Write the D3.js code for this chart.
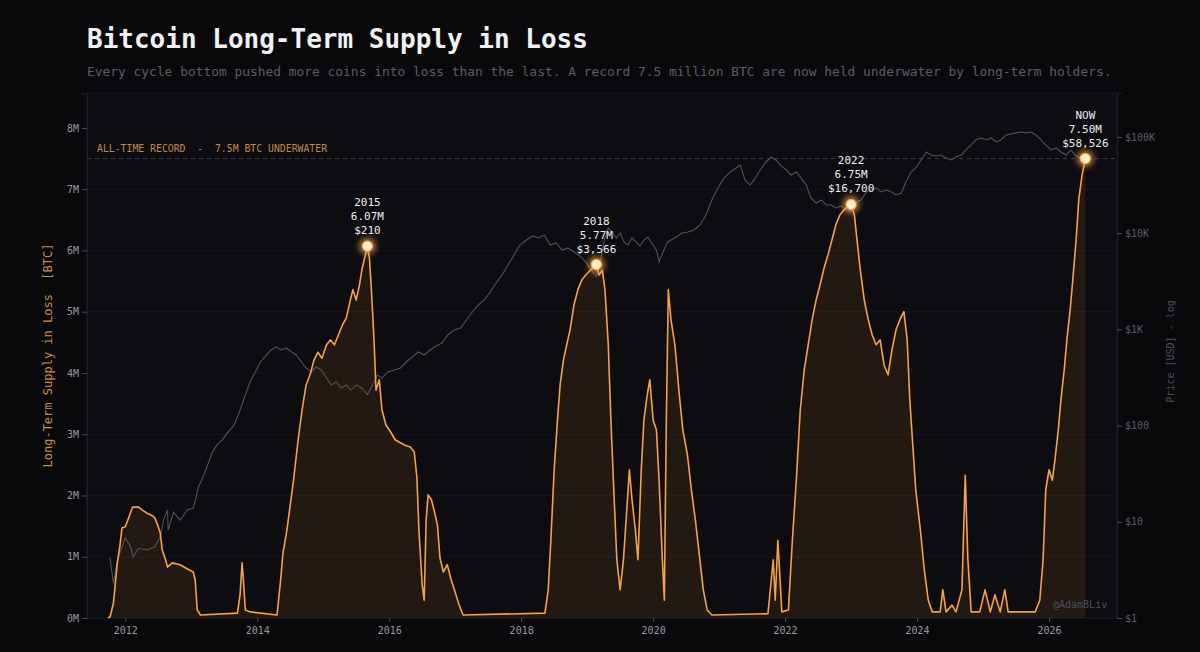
<!DOCTYPE html>
<html>
<head>
<meta charset="utf-8">
<script src="https://cdnjs.cloudflare.com/ajax/libs/d3/7.8.5/d3.min.js"></script>
<style>
  html, body { margin: 0; padding: 0; background: #09090c; }
  svg { display: block; }
  text { font-family: 'DejaVu Sans Mono', monospace; }
</style>
</head>
<body>
<svg id="chart" width="1200" height="652"></svg>
<script>
// Long-term holder supply in loss, millions of BTC [decimal year, value]
const supplyInLoss = [
  [2011.74, 0.00], [2011.77, 0.02], [2011.82, 0.24], [2011.88, 0.90], [2011.92, 1.19],
  [2011.95, 1.47], [2012.00, 1.49], [2012.05, 1.63], [2012.11, 1.81], [2012.20, 1.81],
  [2012.26, 1.76], [2012.33, 1.71], [2012.41, 1.67], [2012.45, 1.63], [2012.50, 1.49],
  [2012.53, 1.39], [2012.56, 1.11], [2012.61, 0.95], [2012.64, 0.83], [2012.71, 0.90],
  [2012.83, 0.87], [2012.91, 0.82], [2012.98, 0.78], [2013.03, 0.75], [2013.06, 0.62],
  [2013.09, 0.13], [2013.14, 0.05], [2013.70, 0.08], [2013.74, 0.38], [2013.77, 0.90],
  [2013.79, 0.62], [2013.82, 0.13], [2013.89, 0.10], [2014.30, 0.05], [2014.35, 0.57],
  [2014.39, 1.06], [2014.45, 1.44], [2014.55, 2.25], [2014.62, 2.91], [2014.68, 3.40],
  [2014.74, 3.80], [2014.80, 3.97], [2014.86, 4.21], [2014.92, 4.34], [2014.98, 4.24],
  [2015.05, 4.46], [2015.11, 4.54], [2015.17, 4.46], [2015.23, 4.62], [2015.29, 4.78],
  [2015.35, 4.90], [2015.41, 5.19], [2015.45, 5.36], [2015.50, 5.19], [2015.55, 5.44],
  [2015.59, 5.71], [2015.64, 5.93], [2015.67, 6.07], [2015.70, 5.88], [2015.73, 5.36],
  [2015.77, 4.54], [2015.80, 3.72], [2015.85, 3.89], [2015.89, 3.40], [2015.95, 3.15],
  [2016.02, 3.04], [2016.09, 2.91], [2016.17, 2.86], [2016.24, 2.82], [2016.32, 2.79],
  [2016.38, 2.71], [2016.42, 2.29], [2016.45, 1.44], [2016.50, 0.54], [2016.53, 0.29],
  [2016.56, 1.60], [2016.59, 2.01], [2016.64, 1.93], [2016.68, 1.76], [2016.73, 1.52],
  [2016.77, 0.98], [2016.82, 0.75], [2016.88, 0.87], [2016.94, 0.62], [2017.00, 0.42],
  [2017.06, 0.21], [2017.12, 0.05], [2018.36, 0.08], [2018.41, 0.46], [2018.45, 1.27],
  [2018.50, 2.42], [2018.55, 3.23], [2018.59, 3.80], [2018.64, 4.21], [2018.68, 4.41],
  [2018.74, 4.70], [2018.80, 5.11], [2018.86, 5.36], [2018.92, 5.52], [2018.98, 5.60],
  [2019.05, 5.68], [2019.11, 5.74], [2019.14, 5.77], [2019.18, 5.60], [2019.23, 5.68],
  [2019.27, 5.36], [2019.32, 4.46], [2019.36, 3.23], [2019.41, 1.93], [2019.45, 0.95],
  [2019.50, 0.46], [2019.55, 0.95], [2019.59, 1.60], [2019.64, 2.42], [2019.68, 1.93],
  [2019.73, 1.44], [2019.77, 0.95], [2019.82, 2.42], [2019.86, 3.23], [2019.91, 3.64],
  [2019.95, 3.89], [2020.00, 3.23], [2020.05, 3.07], [2020.09, 2.25], [2020.14, 0.95],
  [2020.17, 0.29], [2020.20, 3.23], [2020.23, 5.36], [2020.27, 4.87], [2020.33, 4.46],
  [2020.39, 3.72], [2020.45, 3.07], [2020.52, 2.66], [2020.58, 2.09], [2020.64, 1.60],
  [2020.70, 1.03], [2020.76, 0.46], [2020.82, 0.13], [2020.89, 0.05], [2021.74, 0.07],
  [2021.79, 0.62], [2021.82, 0.95], [2021.85, 0.29], [2021.89, 1.27], [2021.92, 0.70],
  [2021.95, 0.10], [2022.05, 0.13], [2022.11, 1.27], [2022.17, 2.25], [2022.23, 3.40],
  [2022.29, 4.05], [2022.35, 4.46], [2022.41, 4.87], [2022.47, 5.19], [2022.53, 5.44],
  [2022.59, 5.71], [2022.65, 5.93], [2022.71, 6.17], [2022.77, 6.42], [2022.83, 6.58],
  [2022.89, 6.66], [2022.95, 6.72], [2023.00, 6.75], [2023.05, 6.58], [2023.09, 6.17],
  [2023.14, 5.68], [2023.20, 5.19], [2023.26, 4.87], [2023.32, 4.62], [2023.38, 4.46],
  [2023.44, 4.54], [2023.50, 4.13], [2023.56, 3.97], [2023.62, 4.38], [2023.68, 4.70],
  [2023.74, 4.87], [2023.80, 5.00], [2023.85, 4.54], [2023.89, 3.56], [2023.94, 2.74],
  [2023.98, 2.09], [2024.05, 1.44], [2024.11, 0.78], [2024.17, 0.29], [2024.23, 0.10],
  [2024.35, 0.10], [2024.39, 0.46], [2024.44, 0.10], [2024.53, 0.21], [2024.59, 0.10],
  [2024.68, 0.46], [2024.73, 2.33], [2024.77, 0.95], [2024.82, 0.10], [2024.95, 0.10],
  [2025.03, 0.46], [2025.11, 0.10], [2025.18, 0.38], [2025.26, 0.10], [2025.33, 0.46],
  [2025.38, 0.10], [2025.79, 0.10], [2025.86, 0.29], [2025.91, 0.95], [2025.95, 2.09],
  [2026.00, 2.42], [2026.05, 2.25], [2026.09, 2.58], [2026.14, 3.07], [2026.18, 3.56],
  [2026.23, 4.05], [2026.27, 4.54], [2026.32, 5.03], [2026.36, 5.52], [2026.41, 6.17],
  [2026.45, 6.82], [2026.50, 7.23], [2026.55, 7.50]
]

// BTC price in USD [decimal year, price]
const btcPrice = [
  [2011.77, 4.2], [2011.82, 2.3], [2011.88, 4.0], [2012.00, 6.8], [2012.08, 5.5],
  [2012.12, 4.3], [2012.20, 5.3], [2012.33, 5.1], [2012.45, 5.5], [2012.53, 7.0],
  [2012.58, 10.4], [2012.64, 13.3], [2012.65, 8.2], [2012.73, 12.6], [2012.83, 10.4],
  [2012.94, 13.3], [2013.03, 13.9], [2013.11, 23], [2013.17, 28.5], [2013.23, 36],
  [2013.32, 53], [2013.39, 63], [2013.47, 71], [2013.56, 86], [2013.65, 101],
  [2013.74, 145], [2013.82, 208], [2013.89, 284], [2013.97, 361], [2014.05, 458],
  [2014.14, 542], [2014.21, 611], [2014.29, 656], [2014.36, 611], [2014.44, 641],
  [2014.52, 582], [2014.59, 542], [2014.67, 458], [2014.74, 397], [2014.82, 361],
  [2014.89, 406], [2014.97, 378], [2015.05, 312], [2015.12, 264], [2015.20, 284],
  [2015.27, 246], [2015.35, 264], [2015.42, 234], [2015.50, 264], [2015.58, 246],
  [2015.67, 210], [2015.74, 258], [2015.82, 336], [2015.89, 312], [2015.98, 361],
  [2016.08, 378], [2016.17, 397], [2016.26, 458], [2016.35, 517], [2016.44, 582],
  [2016.53, 542], [2016.62, 611], [2016.71, 672], [2016.80, 722], [2016.89, 875],
  [2016.98, 985], [2017.08, 1034], [2017.17, 1252], [2017.26, 1517], [2017.35, 1795],
  [2017.44, 2023], [2017.53, 2448], [2017.62, 3036], [2017.71, 3675], [2017.80, 4670],
  [2017.89, 5932], [2017.98, 7534], [2018.08, 8491], [2018.17, 9350], [2018.26, 8913],
  [2018.35, 9575], [2018.44, 7534], [2018.53, 7909], [2018.62, 6686], [2018.71, 7019],
  [2018.80, 6377], [2018.89, 5794], [2018.98, 5020], [2019.06, 4143], [2019.14, 3566],
  [2019.20, 5020], [2019.26, 8491], [2019.32, 11320], [2019.38, 10285], [2019.44, 8913],
  [2019.50, 10040], [2019.56, 8100], [2019.62, 7534], [2019.68, 8913], [2019.74, 8100],
  [2019.80, 7360], [2019.86, 8491], [2019.92, 9120], [2019.98, 7909], [2020.05, 6686],
  [2020.09, 5020], [2020.15, 6377], [2020.21, 7909], [2020.27, 8491], [2020.35, 9120],
  [2020.44, 10040], [2020.53, 10285], [2020.62, 10790], [2020.71, 12170], [2020.80, 15460],
  [2020.89, 22130], [2020.98, 29510], [2021.08, 37500], [2021.17, 43260], [2021.26, 47640],
  [2021.32, 51170], [2021.39, 35730], [2021.47, 31700], [2021.55, 37500], [2021.62, 45400],
  [2021.71, 54950], [2021.79, 61940], [2021.86, 57680], [2021.94, 50000], [2022.02, 45400],
  [2022.09, 40270], [2022.17, 43260], [2022.24, 37500], [2022.32, 31700], [2022.39, 23230],
  [2022.47, 20610], [2022.55, 22130], [2022.62, 19640], [2022.70, 19640], [2022.77, 18280],
  [2022.85, 19190], [2022.92, 17420], [2023.00, 16700], [2023.08, 21090], [2023.15, 22130],
  [2023.23, 26800], [2023.30, 28120], [2023.38, 29510], [2023.45, 26800], [2023.53, 28120],
  [2023.61, 26800], [2023.68, 24950], [2023.76, 26180], [2023.83, 34040], [2023.91, 43260],
  [2023.98, 47640], [2024.06, 57680], [2024.14, 69820], [2024.21, 65000], [2024.29, 63440],
  [2024.36, 65000], [2024.44, 60500], [2024.52, 57680], [2024.59, 61940], [2024.67, 65000],
  [2024.74, 73280], [2024.82, 82600], [2024.89, 93100], [2024.97, 97700], [2025.05, 93100],
  [2025.12, 97700], [2025.20, 88700], [2025.27, 93100], [2025.35, 105000], [2025.42, 107500],
  [2025.50, 110200], [2025.58, 112700], [2025.65, 110200], [2025.73, 112700], [2025.80, 105000],
  [2025.88, 93100], [2025.95, 82600], [2026.03, 73280], [2026.11, 76900], [2026.18, 69820],
  [2026.26, 65000], [2026.33, 73280], [2026.41, 63440], [2026.48, 60500], [2026.55, 58526]
]

const yearTicks = [2012, 2014, 2016, 2018, 2020, 2022, 2024, 2026]
const supplyTicks = [0, 1, 2, 3, 4, 5, 6, 7, 8]
const priceTicks = [1, 10, 100, 1000, 10000, 100000]
const priceTickLabels = ['$1', '$10', '$100', '$1K', '$10K', '$100K']

const calloutLabels = ['2015', '2018', '2022', 'NOW']
const calloutDates = [2015.67, 2019.14, 2023.00, 2026.55]
const calloutSupply = [6.07, 5.77, 6.75, 7.50]
const calloutPrices = [210, 3566, 16700, 58526]

const recordSupply = 7.5

const plot = {left: 87, right: 1117, top: 93, bottom: 618}
const orange = '#f5a147'
const tickGrey = '#9598a1'
const svg = d3.select('#chart')

const x = d3.scaleLinear()
            .domain([2011.42, 2027.03])
            .range([plot.left, plot.right])
const y = d3.scaleLinear()
            .domain([0, 8.57])
            .range([plot.bottom, plot.top])
const yPrice = d3.scaleLog()
                 .domain([1, Math.pow(10, 5.457)])
                 .range([plot.bottom, plot.top])

// glow for the cycle markers
const defs = svg.append('defs')
const glow = defs.append('filter')
                 .attr('id', 'glow')
                 .attr('x', '-150%').attr('y', '-150%')
                 .attr('width', '400%').attr('height', '400%')
glow.append('feGaussianBlur').attr('stdDeviation', 3)

// titles
svg.append('text')
   .attr('x', 87).attr('y', 48)
   .attr('fill', '#f1f1f3')
   .attr('font-size', 26)
   .attr('font-weight', 'bold')
   .text('Bitcoin Long-Term Supply in Loss')

svg.append('text')
   .attr('x', 87).attr('y', 76)
   .attr('fill', '#5a5d67')
   .attr('font-size', 12.9)
   .text('Every cycle bottom pushed more coins into loss than the last. A record 7.5 million BTC are now held underwater by long-term holders.')

// plot panel
svg.append('rect')
   .attr('x', plot.left).attr('y', plot.top)
   .attr('width', plot.right - plot.left)
   .attr('height', plot.bottom - plot.top)
   .attr('fill', '#0c0c11')
   .attr('stroke', '#16161d')

svg.append('g')
   .selectAll('line')
   .data(supplyTicks)
   .join('line')
   .attr('x1', plot.left).attr('x2', plot.right)
   .attr('y1', d => y(d)).attr('y2', d => y(d))
   .attr('stroke', '#15151c')

// axes
const styleAxis = (g, color) => {
  g.select('.domain').attr('stroke', '#1e1e26')
  g.selectAll('.tick line').attr('stroke', '#4a4c55')
  g.selectAll('.tick text')
   .attr('fill', color)
   .attr('font-size', 10)
   .attr('font-family', "'DejaVu Sans Mono', monospace")
}

svg.append('g')
   .attr('transform', `translate(${plot.left},0)`)
   .call(d3.axisLeft(y).tickValues(supplyTicks).tickFormat(d => d + 'M').tickSize(5).tickPadding(3))
   .call(g => styleAxis(g, tickGrey))

svg.append('g')
   .attr('transform', `translate(${plot.right},0)`)
   .call(d3.axisRight(yPrice).tickValues(priceTicks).tickFormat((d, i) => priceTickLabels[i]).tickSize(5).tickPadding(3))
   .call(g => styleAxis(g, '#5a5d67'))

svg.append('g')
   .attr('transform', `translate(0,${plot.bottom})`)
   .call(d3.axisBottom(x).tickValues(yearTicks).tickFormat(d3.format('d')).tickSize(4).tickPadding(5))
   .call(g => styleAxis(g, tickGrey))
   .call(g => g.select('.domain').remove())

svg.append('text')
   .attr('transform', `translate(52,${(plot.top + plot.bottom) / 2}) rotate(-90)`)
   .attr('text-anchor', 'middle')
   .attr('fill', '#c98a4e')
   .attr('font-size', 12)
   .attr('xml:space', 'preserve')
   .text('Long-Term Supply in Loss  [BTC]')

svg.append('text')
   .attr('transform', `translate(1174,${(plot.top + plot.bottom) / 2 - 4}) rotate(-90)`)
   .attr('text-anchor', 'middle')
   .attr('fill', '#4c4f59')
   .attr('font-size', 10)
   .text('Price [USD] - log')

// record line
svg.append('line')
   .attr('x1', plot.left).attr('x2', plot.right)
   .attr('y1', y(recordSupply)).attr('y2', y(recordSupply))
   .attr('stroke', '#3c3c44')
   .attr('stroke-dasharray', '4,4')

svg.append('text')
   .attr('x', 97).attr('y', 152)
   .attr('fill', '#c4874c')
   .attr('font-size', 9.8)
   .attr('xml:space', 'preserve')
   .text('ALL-TIME RECORD  -  7.5M BTC UNDERWATER')

// series
const area = d3.area()
               .x(d => x(d[0]))
               .y0(y(0))
               .y1(d => y(d[1]))
const supplyLine = d3.line()
                     .x(d => x(d[0]))
                     .y(d => y(d[1]))
const priceLine = d3.line()
                    .x(d => x(d[0]))
                    .y(d => yPrice(d[1]))

svg.append('path')
   .datum(supplyInLoss)
   .attr('d', area)
   .attr('fill', '#e8901e')
   .attr('fill-opacity', 0.1)

svg.append('path')
   .datum(btcPrice)
   .attr('d', priceLine)
   .attr('fill', 'none')
   .attr('stroke', '#4e525e')
   .attr('stroke-width', 1.1)

svg.append('path')
   .datum(supplyInLoss)
   .attr('d', supplyLine)
   .attr('fill', 'none')
   .attr('stroke', orange)
   .attr('stroke-width', 1.6)
   .attr('stroke-linejoin', 'round')

// cycle callouts
const callouts = calloutLabels.map((label, i) => ({
  label,
  date: calloutDates[i],
  supply: calloutSupply[i],
  price: calloutPrices[i]
}))

const callout = svg.append('g')
                   .selectAll('g')
                   .data(callouts)
                   .join('g')
                   .attr('transform', d => `translate(${x(d.date)},${y(d.supply)})`)

callout.append('circle')
       .attr('r', 8)
       .attr('fill', orange)
       .attr('opacity', 0.8)
       .attr('filter', 'url(#glow)')
callout.append('circle')
       .attr('r', 5)
       .attr('fill', '#fff1cc')
       .attr('stroke', '#f7b35c')
       .attr('stroke-width', 1.2)

const lines = d => [d.label, d.supply.toFixed(2) + 'M', '$' + d3.format(',')(d.price)]
callout.selectAll('text')
       .data(d => lines(d))
       .join('text')
       .attr('y', (d, i) => -40 + i * 14)
       .attr('text-anchor', 'middle')
       .attr('fill', '#ececef')
       .attr('font-size', 11)
       .text(d => d)

// watermark
svg.append('text')
   .attr('x', 1053).attr('y', 608)
   .attr('fill', '#4d4f58')
   .attr('font-size', 10)
   .text('@AdamBLiv')
</script>
</body>
</html>
